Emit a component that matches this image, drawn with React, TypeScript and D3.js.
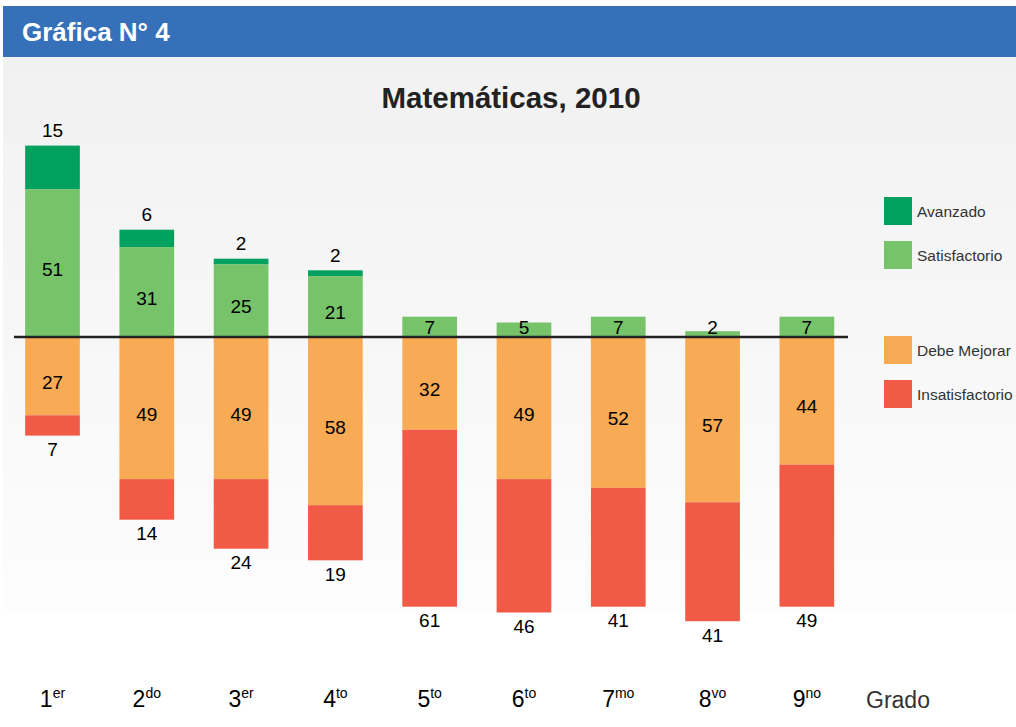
import React from "react";
import * as d3 from "d3";

const grades = ["1", "2", "3", "4", "5", "6", "7", "8", "9"];
const suffixes = ["er", "do", "er", "to", "to", "to", "mo", "vo", "no"];
const avanzado = [15, 6, 2, 2, 0, 0, 0, 0, 0];
const satisfactorio = [51, 31, 25, 21, 7, 5, 7, 2, 7];
const debeMejorar = [27, 49, 49, 58, 32, 49, 52, 57, 44];
const insatisfactorio = [7, 14, 24, 19, 61, 46, 41, 41, 49];

const legendItems = [
  { label: "Avanzado", color: "#00a05f" },
  { label: "Satisfactorio", color: "#76c36a" },
  { label: "Debe Mejorar", color: "#f9aa54" },
  { label: "Insatisfactorio", color: "#f15a46" },
];

const W = 1016;
const H = 727;
const FONT = "'Liberation Sans', Arial, sans-serif";

export default function App() {
  const x = d3
    .scaleBand<string>()
    .domain(grades)
    .range([5.35, 854])
    .paddingInner(0.42)
    .paddingOuter(0.21);
  const y = d3.scaleLinear().domain([-100, 100]).range([627, 47]);
  const y0 = y(0);
  const bw = x.bandwidth();

  const bars = grades.map((g, i) => {
    const x0 = x(g)!;
    const cx = x0 + bw / 2;
    const sat = satisfactorio[i];
    const av = avanzado[i];
    const dm = debeMejorar[i];
    const ins = insatisfactorio[i];
    const satTop = y(sat);
    const avTop = y(sat + av);
    const dmBot = y(-dm);
    const insBot = y(-(dm + ins));
    const satH = y0 - satTop;
    return (
      <g key={g}>
        {av > 0 && (
          <rect x={x0} y={avTop} width={bw} height={satTop - avTop} fill={legendItems[0].color} />
        )}
        <rect x={x0} y={satTop} width={bw} height={y0 - satTop} fill={legendItems[1].color} />
        <rect x={x0} y={y0} width={bw} height={dmBot - y0} fill={legendItems[2].color} />
        <rect x={x0} y={dmBot} width={bw} height={insBot - dmBot} fill={legendItems[3].color} />
        {av > 0 && (
          <text x={cx} y={avTop - 15} textAnchor="middle" dominantBaseline="central" fontSize={19}>
            {av}
          </text>
        )}
        <text
          x={cx}
          y={satH < 25 ? y0 - 10 : (satTop + y0) / 2 + 6}
          textAnchor="middle"
          dominantBaseline="central"
          fontSize={19}
        >
          {sat}
        </text>
        <text x={cx} y={(y0 + dmBot) / 2 + 6} textAnchor="middle" dominantBaseline="central" fontSize={19}>
          {dm}
        </text>
        <text x={cx} y={insBot + 14} textAnchor="middle" dominantBaseline="central" fontSize={19}>
          {ins}
        </text>
        <text x={cx} y={707} textAnchor="middle" fontSize={23}>
          {grades[i]}
          <tspan fontSize={14} dy={-9}>
            {suffixes[i]}
          </tspan>
        </text>
      </g>
    );
  });

  return (
    <svg
      width={W}
      height={H}
      style={{ position: "absolute", left: 0, top: 0, display: "block" }}
      fontFamily={FONT}
    >
      <defs>
        <linearGradient id="bg" x1="0" y1="0" x2="0" y2="1">
          <stop offset="0" stopColor="#f1f1f1" />
          <stop offset="1" stopColor="#fdfdfd" />
        </linearGradient>
      </defs>
      <rect x={0} y={0} width={W} height={H} fill="#ffffff" />
      <rect x={3} y={57} width={W - 3} height={553} fill="url(#bg)" />
      <rect x={3} y={6} width={W - 3} height={51} fill="#3670b8" />
      <text x={22} y={41} fill="#ffffff" fontWeight="bold" fontSize={26}>
        Gráfica N° 4
      </text>
      <text x={511} y={108} textAnchor="middle" fontWeight="bold" fontSize={29.5} fill="#222">
        Matemáticas, 2010
      </text>
      {bars}
      <line x1={14} x2={848} y1={y0} y2={y0} stroke="#222" strokeWidth={2.5} />
      {legendItems.map((d, i) => {
        const ly = [197, 241, 336, 380][i];
        return (
          <g key={d.label}>
            <rect x={884} y={ly} width={28} height={28} fill={d.color} />
            <text x={917} y={ly + 14} dominantBaseline="central" fontSize={15.5} fill="#333">
              {d.label}
            </text>
          </g>
        );
      })}
      <text x={866} y={708} fontSize={23} fill="#333">
        Grado
      </text>
    </svg>
  );
}
